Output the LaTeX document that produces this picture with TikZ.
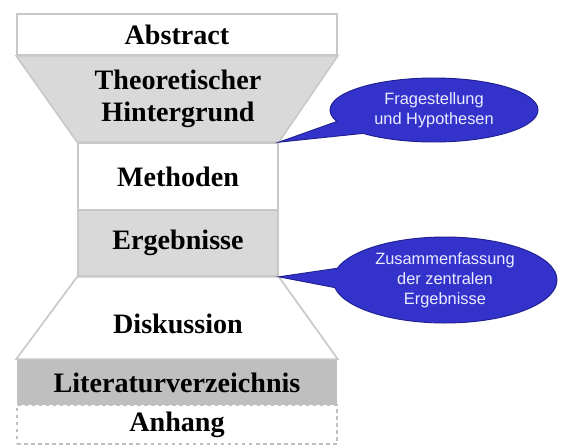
\documentclass[tikz,border=0pt]{standalone}
\usepackage{fontspec}
\setmainfont{Liberation Serif}
\newfontfamily\bubblefont{Liberation Sans}
\usetikzlibrary{shapes.callouts,positioning}

\definecolor{partgray}{HTML}{D9D9D9}
\definecolor{partdark}{HTML}{BFBFBF}
\definecolor{partline}{HTML}{C8C8C8}
\definecolor{bubbleblue}{HTML}{3333CC}
\definecolor{bubbleline}{HTML}{20208F}

\tikzset{
  part/.style={draw=partline, line width=1.4pt, inner sep=0pt,
               font=\fontsize{24}{27}\selectfont\bfseries, align=center},
  parttext/.style={inner sep=0pt, font=\fontsize{24}{27}\selectfont\bfseries,
               align=center},
  bubble/.style={ellipse callout, fill=bubbleblue, draw=bubbleline,
               line width=0.8pt, text=white!92!blue, align=center, inner sep=0pt,
               callout pointer arc=26,
               font=\bubblefont\fontsize{14}{17}\selectfont}
}

\begin{document}
\begin{tikzpicture}[x=0.03cm,y=-0.03cm]
  \useasboundingbox (0,0) rectangle (561,445);

  % rectangular parts
  \node[part, fill=white, minimum width=9.6cm, minimum height=1.23cm]
        (abstract) at (177,34.5) {Abstract};
  \node[part, fill=white, minimum width=6cm, minimum height=2.01cm]
        (methoden) at (178,176.5) {Methoden};
  \node[part, fill=partgray, minimum width=6cm, minimum height=1.98cm]
        (ergebnisse) at (178,243) {Ergebnisse};
  \node[part, draw=none, fill=partdark, minimum width=9.6cm, minimum height=1.35cm]
        (literatur) at (177,382.5) {Literaturverzeichnis};
  \node[part, draw=partdark, line width=1pt, dashed, fill=white,
        minimum width=9.6cm, minimum height=1.17cm]
        (anhang) at (177,424.5) {Anhang};

  % funnel parts
  \filldraw[fill=partgray, draw=partline, line width=1.4pt]
        (abstract.south west) -- (abstract.south east)
        -- (methoden.north east) -- (methoden.north west) -- cycle;
  \filldraw[fill=white, draw=partline, line width=1.4pt]
        (ergebnisse.south west) -- (ergebnisse.south east)
        -- (literatur.north east) -- (literatur.north west) -- cycle;
  \node[parttext] (theorie) at (178,99) {Theoretischer\\Hintergrund};
  \node[parttext] (diskussion) at (178,324) {Diskussion};

  % callouts
  \node[bubble, minimum width=6.24cm, minimum height=1.92cm,
        callout absolute pointer=(methoden.north east)]
        (fragen) at (434,110) {Fragestellung\\und Hypothesen};
  \node[bubble, minimum width=6.72cm, minimum height=2.58cm,
        callout absolute pointer=(ergebnisse.south east)]
        (zusammen) at (445,280) {Zusammenfassung\\der zentralen\\Ergebnisse};
\end{tikzpicture}
\end{document}
